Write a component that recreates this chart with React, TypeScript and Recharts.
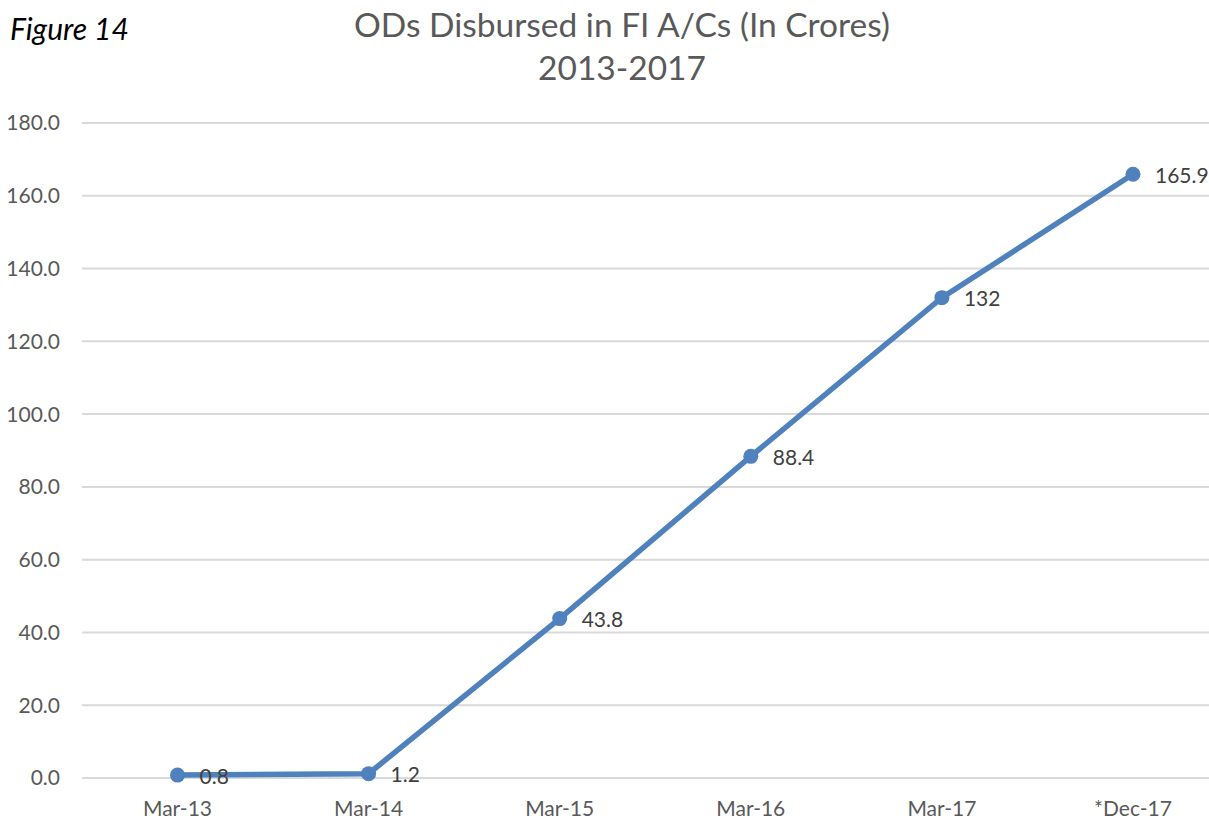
import React from "react";
import { LineChart, Line, XAxis, YAxis, CartesianGrid, LabelList } from "recharts";

const categories = ["Mar-13", "Mar-14", "Mar-15", "Mar-16", "Mar-17", "*Dec-17"];
const values = [0.8, 1.2, 43.8, 88.4, 132, 165.9];
const valueLabels = ["0.8", "1.2", "43.8", "88.4", "132", "165.9"];
const yTicks = [0, 20, 40, 60, 80, 100, 120, 140, 160, 180];
const titleLine1 = "ODs Disbursed in FI A/Cs (In Crores)";
const titleLine2 = "2013-2017";
const figureLabel = "Figure 14";

const data = categories.map((c, i) => ({ name: c, value: values[i], label: valueLabels[i] }));

const FONT = "Lato, 'Open Sans', sans-serif";
const BLUE = "#4F81BD";

const DataLabel = (props: any) => {
  const { x, y, index } = props;
  return (
    <text x={x + 22} y={y} dominantBaseline="central" textAnchor="start" fontSize={21} fill="#404040" fontFamily={FONT}>
      {valueLabels[index]}
    </text>
  );
};

export default function App() {
  return (
    <div style={{ position: "absolute", left: 0, top: 0, width: 1209, height: 819, overflow: "hidden", background: "#fff" }}>
      <div style={{ position: "absolute", left: 10, top: 10, fontFamily: FONT, fontStyle: "italic", fontSize: 30, color: "#000", lineHeight: "36px" }}>
        {figureLabel}
      </div>
      <div style={{ position: "absolute", left: 272, width: 700, top: 3, textAlign: "center", fontFamily: FONT, fontSize: 33.5, color: "#595959", lineHeight: "43px" }}>
        <div>{titleLine1}</div>
        <div>{titleLine2}</div>
      </div>
      <div style={{ position: "absolute", left: 0, top: 0 }}>
        <LineChart width={1240} height={819} data={data} margin={{ top: 123, right: 11.5, bottom: 0, left: 0 }}>
          <CartesianGrid vertical={false} stroke="#D9D9D9" strokeWidth={2} />
          <XAxis
            dataKey="name"
            axisLine={false}
            tickLine={false}
            tickSize={0}
            tickMargin={23}
            height={41}
            padding={{ left: 95.5, right: 95.5 }}
            interval={0}
            tick={{ fontSize: 21, fill: "#595959", fontFamily: FONT }}
          />
          <YAxis
            domain={[0, 180]}
            ticks={yTicks}
            axisLine={false}
            tickLine={false}
            tickSize={0}
            tickMargin={22}
            width={82}
            tickFormatter={(v: number) => v.toFixed(1)}
            tick={{ fontSize: 21, fill: "#595959", fontFamily: FONT }}
          />
          <Line
            type="linear"
            dataKey="value"
            stroke={BLUE}
            strokeWidth={5.5}
            dot={{ r: 7.5, fill: BLUE, stroke: BLUE, strokeWidth: 0 }}
            isAnimationActive={false}
          >
            <LabelList dataKey="label" content={<DataLabel />} />
          </Line>
        </LineChart>
      </div>
    </div>
  );
}
